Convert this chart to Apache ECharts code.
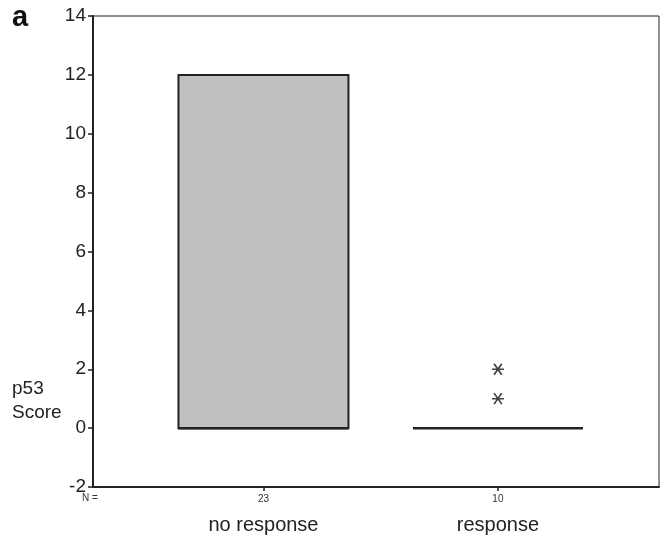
<!DOCTYPE html>
<html>
<head>
<meta charset="utf-8">
<script src="https://cdn.jsdelivr.net/npm/echarts@6/dist/echarts.min.js"></script>
<style>html,body{margin:0;padding:0;background:#fff;}#c{width:669px;height:540px;}</style>
</head>
<body>
<div id="c"></div>
<script>
// Data
var categories = ['no response', 'response'];
var nCounts = [23, 10];
// [min, Q1, median, Q3, max] per category
var boxData = [[0, 0, 0, 12, 12], [0, 0, 0, 0, 0]];
// extreme values: [category position (1-based), value]
var extremes = [[2, 2], [2, 1]];
var yTicks = [-2, 0, 2, 4, 6, 8, 10, 12, 14];

var FONT = 'Liberation Sans, Arial, sans-serif';
var chart = echarts.init(document.getElementById('c'), null, {renderer: 'canvas'});
var boxWidthUnits = 0.725;

var option = {
  animation: false,
  backgroundColor: '#fff',
  grid: {left: 93, top: 16, right: 10, bottom: 53, show: true, borderColor: '#222', borderWidth: 1,
    backgroundColor: 'transparent', containLabel: false, outerBoundsMode: 'none'},
  xAxis: {
    type: 'value', min: 0.273, max: 2.687,
    splitLine: {show: false},
    axisLine: {show: true, onZero: false, lineStyle: {color: '#222', width: 2}},
    axisTick: {show: true, length: 4, customValues: [1, 2], lineStyle: {color: '#222', width: 1.5}},
    axisLabel: {
      customValues: [1, 2], margin: 5, fontFamily: FONT, color: '#222',
      formatter: function (v) {
        var i = Math.round(v) - 1;
        return '{n|' + nCounts[i] + '}\n{c|' + categories[i] + '}';
      },
      rich: {
        n: {fontSize: 10, lineHeight: 15, fontFamily: FONT, color: '#333'},
        c: {fontSize: 20, lineHeight: 36, fontFamily: FONT, color: '#222'}
      }
    }
  },
  yAxis: {
    type: 'value', min: yTicks[0], max: yTicks[yTicks.length - 1], interval: 2,
    splitLine: {show: false},
    axisLine: {show: true, onZero: false, lineStyle: {color: '#222', width: 2}},
    axisTick: {show: true, length: 5, lineStyle: {color: '#222', width: 1.5}},
    axisLabel: {fontSize: 19, fontFamily: FONT, color: '#222', margin: 7}
  },
  graphic: [
    {type: 'text', x: 12, y: 18, style: {text: 'a', font: 'bold 29px ' + FONT, fill: '#111', verticalAlign: 'middle'}},
    {type: 'text', x: 12, y: 401, style: {text: 'p53\nScore', font: '19px ' + FONT, fill: '#222', lineHeight: 24, verticalAlign: 'middle'}},
    {type: 'text', x: 82, y: 498, style: {text: 'N =', font: '10px ' + FONT, fill: '#333', verticalAlign: 'middle'}}
  ],
  series: [
    {
      type: 'custom',
      data: boxData.map(function (d, i) { return [i + 1].concat(d); }),
      renderItem: function (params, api) {
        var x = api.value(0);
        var mn = api.value(1), q1 = api.value(2), med = api.value(3), q3 = api.value(4), mx = api.value(5);
        var pL = api.coord([x - boxWidthUnits / 2, q1]);
        var pR = api.coord([x + boxWidthUnits / 2, q3]);
        var children = [];
        if (q3 > q1) {
          children.push({type: 'rect', shape: {x: pL[0], y: pR[1], width: pR[0] - pL[0], height: pL[1] - pR[1]},
            style: {fill: '#c0c0c0', stroke: '#222', lineWidth: 2}});
        }
        var pm = api.coord([x, med]);
        children.push({type: 'line', shape: {x1: pL[0], y1: pm[1], x2: pR[0], y2: pm[1]}, style: {stroke: '#222', lineWidth: 2.5}});
        if (mx > q3) {
          var a = api.coord([x, q3]), b = api.coord([x, mx]);
          children.push({type: 'line', shape: {x1: a[0], y1: a[1], x2: b[0], y2: b[1]}, style: {stroke: '#222', lineWidth: 1.5}});
        }
        if (mn < q1) {
          var c = api.coord([x, q1]), d = api.coord([x, mn]);
          children.push({type: 'line', shape: {x1: c[0], y1: c[1], x2: d[0], y2: d[1]}, style: {stroke: '#222', lineWidth: 1.5}});
        }
        return {type: 'group', children: children};
      },
      z: 3
    },
    {
      type: 'scatter',
      data: extremes,
      symbol: 'path://M0,5L10,5M1.8,1.2L8.2,8.8M1.8,8.8L8.2,1.2',
      symbolSize: [12, 11],
      itemStyle: {color: 'none', borderColor: '#111', borderWidth: 1.6},
      z: 4
    }
  ]
};
chart.setOption(option);
</script>
</body>
</html>
